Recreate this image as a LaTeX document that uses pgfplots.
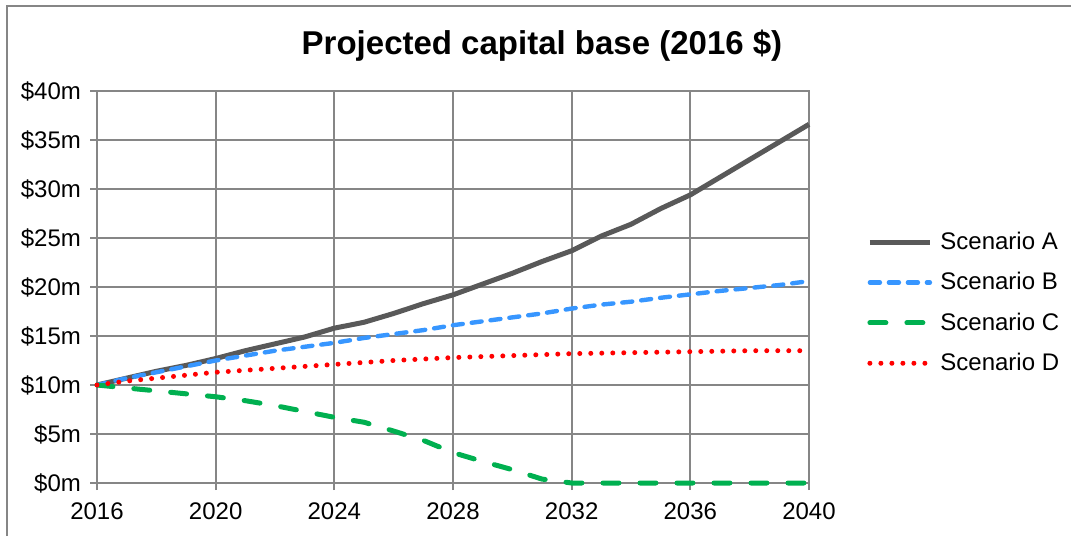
\documentclass[border=0pt]{standalone}
\usepackage{fontspec}
\setmainfont{Liberation Sans}
\usepackage{pgfplots}
\pgfplotsset{compat=1.18}

\definecolor{gridgray}{RGB}{134,134,134}
\definecolor{scA}{RGB}{89,89,89}
\definecolor{scB}{RGB}{55,150,255}
\definecolor{scC}{RGB}{0,176,80}
\definecolor{scD}{RGB}{255,0,0}

\begin{document}
\begin{tikzpicture}
\useasboundingbox (0,0) rectangle (535.5pt,268pt);
\draw[gridgray, line width=1pt] (3.5pt,0) -- (3.5pt,265pt) -- (535.5pt,265pt);
\node[font=\bfseries\fontsize{16.5}{19}\selectfont] at (271pt,245pt) {Projected capital base (2016 \$)};
\begin{axis}[
  at={(48.5pt,26.5pt)}, anchor=south west,
  scale only axis, width=356pt, height=196pt,
  xmin=2016, xmax=2040, ymin=0, ymax=40,
  xtick={2016,2020,...,2040},
  xticklabels={2016,2020,2024,2028,2032,2036,2040},
  ytick={0,5,...,40},
  yticklabels={\$0m,\$5m,\$10m,\$15m,\$20m,\$25m,\$30m,\$35m,\$40m},
  grid=major,
  grid style={gridgray, line width=0.9pt},
  axis line style={gridgray, line width=0.9pt},
  tick style={gridgray, line width=0.9pt},
  major tick length=3.5pt,
  tick align=outside,
  xtick pos=bottom, ytick pos=left,
  tick label style={font=\fontsize{12}{14}\selectfont},
  xticklabel style={yshift=-3pt},
  yticklabel style={xshift=-1pt},
  clip=false,
  legend cell align=left,
  legend style={draw=none, fill=none, at={(axis description cs:1,0.46)}, anchor=west,
                xshift=26pt, row sep=6pt, font=\fontsize{12}{14}\selectfont,
                nodes={inner xsep=4pt}},
  legend image code/.code={\draw[#1] plot coordinates {(0pt,0pt) (30pt,0pt)};},
]
\addplot[scA, line width=2.5pt, line join=round] coordinates {
(2016,10)(2017,10.7)(2018,11.4)(2019,12.0)(2020,12.7)(2021,13.5)(2022,14.2)(2023,14.9)
(2024,15.8)(2025,16.4)(2026,17.3)(2027,18.3)(2028,19.2)(2029,20.3)(2030,21.4)(2031,22.6)
(2032,23.7)(2033,25.2)(2034,26.4)(2035,28.0)(2036,29.4)(2037,31.2)(2038,33.0)(2039,34.8)(2040,36.6)};
\addplot[scB, line width=2.2pt, line cap=round, dash pattern=on 5pt off 4.5pt] coordinates {
(2016,10)(2017,10.7)(2018,11.3)(2019,11.9)(2020,12.5)(2021,13.0)(2022,13.5)(2023,13.9)
(2024,14.3)(2025,14.8)(2026,15.2)(2027,15.6)(2028,16.1)(2029,16.5)(2030,16.9)(2031,17.3)
(2032,17.8)(2033,18.2)(2034,18.5)(2035,18.9)(2036,19.25)(2037,19.6)(2038,19.9)(2039,20.2)(2040,20.6)};
\addplot[scC, line width=2.5pt, line cap=round, dash pattern=on 8pt off 10.5pt] coordinates {
(2016,10)(2017,9.7)(2018,9.4)(2019,9.1)(2020,8.8)(2021,8.4)(2022,7.9)(2023,7.3)
(2024,6.7)(2025,6.2)(2026,5.3)(2027,4.35)(2028,3.1)(2029,2.2)(2030,1.36)(2031,0.4)
(2032,0)(2033,0)(2034,0)(2035,0)(2036,0)(2037,0)(2038,0)(2039,0)(2040,0)};
\addplot[scD, line width=2.5pt, line cap=round, dash pattern=on 0pt off 5.5pt] coordinates {
(2016,10)(2017,10.4)(2018,10.7)(2019,11.0)(2020,11.3)(2021,11.5)(2022,11.7)(2023,11.9)
(2024,12.1)(2025,12.3)(2026,12.5)(2027,12.65)(2028,12.8)(2029,12.9)(2030,13.0)(2031,13.1)
(2032,13.2)(2033,13.25)(2034,13.3)(2035,13.35)(2036,13.4)(2037,13.45)(2038,13.5)(2039,13.5)(2040,13.5)};
\legend{Scenario A,Scenario B,Scenario C,Scenario D}
\end{axis}
\end{tikzpicture}
\end{document}
